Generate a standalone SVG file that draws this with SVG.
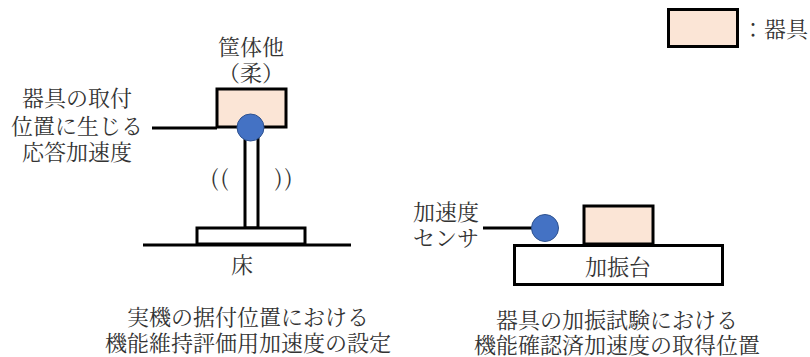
<svg xmlns="http://www.w3.org/2000/svg" width="810" height="357" viewBox="0 0 810 357">
<style>
text{font-family:"Noto Serif CJK JP","Liberation Serif","Noto Sans CJK JP",serif;font-size:22px;fill:#333;text-anchor:middle}
.b{fill:#fbe5d6;stroke:#000;stroke-width:3}
.w{fill:#fff;stroke:#000;stroke-width:3}
.l{fill:none;stroke:#000;stroke-width:3}
.s{fill:#4472c4;stroke:#2f528f;stroke-width:1}
.p{letter-spacing:3px}
</style>
<rect width="810" height="357" fill="#fff"/>
<g id="connectors">
<path class="l" d="M152 128H217"/>
<path class="l" d="M143 245H351"/>
<path class="l" d="M483 228H532"/>
</g>
<g id="post"><rect class="w" x="245" y="135" width="13" height="93"/></g>
<g id="base"><rect class="w" x="197" y="228" width="108" height="16"/></g>
<g id="fixture-top"><rect class="b" x="217" y="89" width="69" height="38"/></g>
<g id="sensor-top"><circle class="s" cx="250.500" cy="127.500" r="13.500"/></g>
<g id="fixture-test"><rect class="b" x="584" y="206" width="69" height="38"/></g>
<g id="table"><rect class="w" x="514.500" y="245.500" width="208" height="39"/><text x="618" y="275">加振台</text></g>
<g id="sensor-test"><circle class="s" cx="545" cy="228" r="13.500"/></g>
<g id="legend"><rect class="b" x="668.500" y="9.500" width="69" height="37"/><text x="775" y="37">：器具</text></g>
<g id="labels">
<text><tspan x="251" y="55">筐体他</tspan><tspan x="251" y="81">（柔）</tspan></text>
<text><tspan x="77" y="106">器具の取付</tspan><tspan x="77" y="134">位置に生じる</tspan><tspan x="77" y="160">応答加速度</tspan></text>
<text class="p" x="221" y="186">((</text>
<text class="p" x="285" y="186">))</text>
<text x="242" y="273">床</text>
<text><tspan x="446" y="220">加速度</tspan><tspan x="446" y="246">センサ</tspan></text>
<text><tspan x="248" y="325">実機の据付位置における</tspan><tspan x="248" y="351">機能維持評価用加速度の設定</tspan></text>
<text><tspan x="617" y="328">器具の加振試験における</tspan><tspan x="617" y="353">機能確認済加速度の取得位置</tspan></text>
</g>
</svg>
